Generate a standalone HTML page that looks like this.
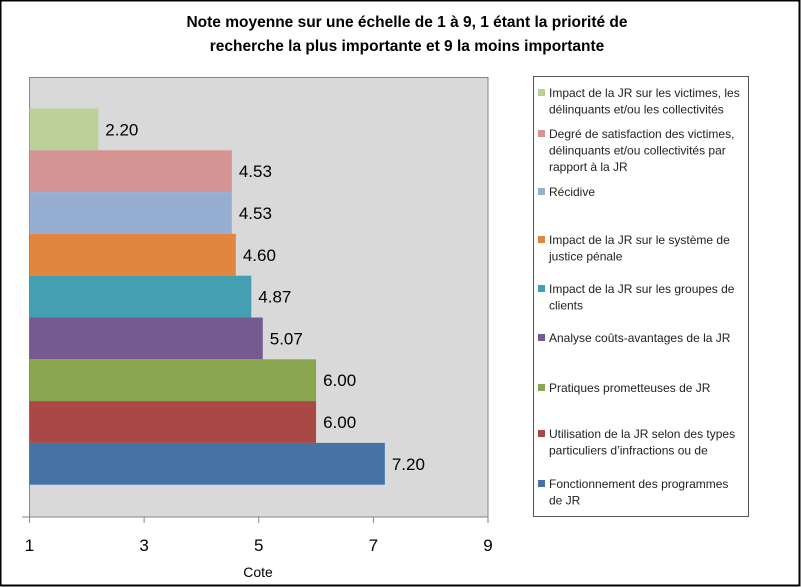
<!DOCTYPE html>
<html><head><meta charset="utf-8"><style>
body{margin:0;background:#fff}
#c{position:relative;width:801px;height:587px;overflow:hidden;font-family:"Liberation Sans",sans-serif}
</style></head><body>
<div id="c">
<svg width="801" height="587" xmlns="http://www.w3.org/2000/svg" id="svg">
<rect x="0.5" y="0.5" width="799" height="585" fill="#fff" stroke="#000" stroke-width="2"/>
<text x="407" y="27" text-anchor="middle" font-size="15.5" font-weight="bold">Note moyenne sur une échelle de 1 à 9, 1 étant la priorité de</text>
<text x="407" y="51" text-anchor="middle" font-size="15.5" font-weight="bold">recherche la plus importante et 9 la moins importante</text>
<rect x="29.5" y="77.5" width="458.5" height="439.5" fill="#d9d9d9" stroke="#868686"/>
<g id="bars"></g>
<g id="axis"></g>
<text x="258" y="577" text-anchor="middle" font-size="14">Cote</text>
<rect x="533.5" y="76.5" width="215" height="440" fill="#fff" stroke="#555"/>
<g id="legend" font-size="12" fill="#222"></g>
</svg>
</div>
<script>
const categories=["Impact de la JR sur les victimes, les délinquants et/ou les collectivités","Degré de satisfaction des victimes, délinquants et/ou collectivités par rapport à la JR","Récidive","Impact de la JR sur le système de justice pénale","Impact de la JR sur les groupes de clients","Analyse coûts-avantages de la JR","Pratiques prometteuses de JR","Utilisation de la JR selon des types particuliers d’infractions ou de","Fonctionnement des programmes de JR"];
const values=[2.20,4.53,4.53,4.60,4.87,5.07,6.00,6.00,7.20];
const colors=["#bcd197","#d49493","#97aed3","#e0863f","#459fb3","#745a91","#89a64e","#aa4845","#4572a7"];
const ticks=[1,3,5,7,9];
const legendLines=[["Impact de la JR sur les victimes, les","délinquants et/ou les collectivités"],["Degré de satisfaction des victimes,","délinquants et/ou collectivités par","rapport à la JR"],["Récidive"],["Impact de la JR sur le système de","justice pénale"],["Impact de la JR sur les groupes de","clients"],["Analyse coûts-avantages de la JR"],["Pratiques prometteuses de JR"],["Utilisation de la JR selon des types","particuliers d’infractions ou de"],["Fonctionnement des programmes","de JR"]];
const legendY=[97,138,196,244,293,342,392,438,488];
const NS="http://www.w3.org/2000/svg";
const x0=29.5,x1=488,xMin=1,xMax=9;
const xs=v=>x0+(v-xMin)/(xMax-xMin)*(x1-x0);
const barTop=108.5,barH=41.8;
const ys=i=>barTop+i*barH;
function mk(t,a){const e=document.createElementNS(NS,t);for(const k in a)e.setAttribute(k,a[k]);return e;}
const gb=document.getElementById('bars');
values.forEach((v,i)=>{
  const r=mk('rect',{x:x0,y:ys(i),width:xs(v)-x0,height:barH,fill:colors[i]});
  
  
  gb.appendChild(r);
  const t=mk('text',{x:xs(v)+7,y:ys(i)+barH/2+6,'font-size':'17',fill:'#000'});
  t.textContent=v.toFixed(2);
  
  
  gb.appendChild(t);
});
const ga=document.getElementById('axis');
const al=mk('line',{x1:22,y1:517,x2:488,y2:517,stroke:'#868686'});


ga.appendChild(al);
ticks.forEach(v=>{
  const l=mk('line',{x1:xs(v),y1:517,x2:xs(v),y2:523,stroke:'#868686'});
  
  
  ga.appendChild(l);
  const t=mk('text',{x:xs(v),y:551,'text-anchor':'middle','font-size':'17'});
  t.textContent=v;
  
  
  ga.appendChild(t);
});
const gl=document.getElementById('legend');
categories.forEach((c,i)=>{
  const y=legendY[i];
  const s=mk('rect',{x:538,y:y-8,width:7,height:7,fill:colors[i]});
  
  
  gl.appendChild(s);
  const t=mk('text',{x:549,y:y});
  
  
  legendLines[i].forEach((ln,j)=>{const ts=mk('tspan',{x:549,y:y+j*16.5});ts.textContent=ln;t.appendChild(ts);});
  gl.appendChild(t);
});
</script>
</body></html>
